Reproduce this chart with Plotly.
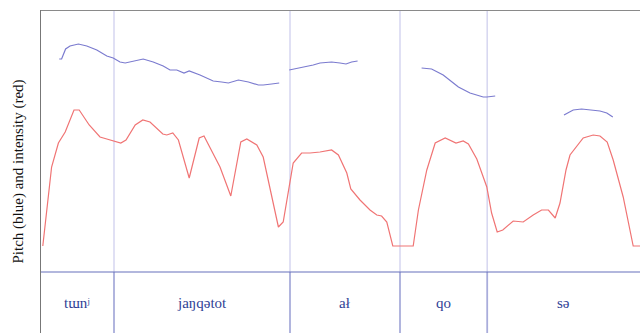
import plotly.graph_objects as go

# Time in ms, levels in arbitrary units
pitch_t1 = [48, 54, 64, 75, 96, 117, 142, 167, 183, 200, 213, 233, 258, 283, 308, 325, 342, 360, 373, 400, 433, 454, 471, 496, 521, 546, 558, 579, 598]
pitch_v1 = [274, 274, 284, 287, 289, 287, 283, 277, 275, 271, 270, 272, 274, 271, 267, 263, 263, 260, 262, 258, 252, 251, 250, 253, 251, 248, 248, 249, 250]
pitch_t2 = [623, 650, 683, 700, 729, 750, 765, 779, 794]
pitch_v2 = [263, 265, 268, 270, 271, 270, 269, 271, 272]
pitch_t3 = [954, 979, 1008, 1046, 1075, 1108, 1117, 1138]
pitch_v3 = [265, 264, 258, 246, 240, 236, 236, 237]
pitch_t4 = [1310, 1333, 1354, 1400, 1417, 1432]
pitch_v4 = [218, 223, 224, 222, 220, 216]

int_t = [7, 29, 46, 63, 85, 98, 123, 150, 167, 188, 202, 215, 238, 257, 275, 307, 317, 332, 346, 373,
         398, 410, 433, 450, 477, 502, 517, 542, 558, 596, 608, 629, 633, 654, 675, 700, 729, 746, 767, 777,
         800, 825, 842, 854, 867, 882, 933, 946, 963, 967, 988, 1013, 1040, 1058, 1071, 1092, 1117, 1129, 1143, 1157,
         1183, 1208, 1233, 1254, 1271, 1288, 1300, 1315, 1325, 1358, 1383, 1400, 1418, 1433, 1458, 1483, 1500]
int_v = [87, 166, 190, 201, 223, 223, 208, 196, 194, 192, 190, 193, 208, 213, 211, 199, 198, 200, 193, 155,
         195, 197, 180, 166, 137, 191, 194, 188, 176, 106, 111, 163, 170, 180, 180, 181, 183, 178, 160, 144,
         133, 123, 118, 117, 111, 87, 87, 123, 156, 163, 190, 195, 190, 192, 189, 174, 146, 120, 101, 103,
         112, 111, 118, 123, 123, 115, 130, 163, 178, 195, 198, 197, 191, 173, 136, 87, 87]

seg_bounds = [0, 185, 625, 900, 1118, 1500]
seg_labels = ["tɯnʲ", "jaŋqətot", "ał", "qo", "sə"]

BAND_TOP = 61
Y_MAX = 323
X_MAX = 1500

fig = go.Figure()
blue = "#7b7bcf"
red = "#f07474"
for t, v in [(pitch_t1, pitch_v1), (pitch_t2, pitch_v2), (pitch_t3, pitch_v3), (pitch_t4, pitch_v4)]:
    fig.add_trace(go.Scatter(x=t, y=v, mode="lines", line=dict(color=blue, width=1.2),
                             showlegend=False, hoverinfo="skip"))
fig.add_trace(go.Scatter(x=int_t, y=int_v, mode="lines", line=dict(color=red, width=1.2),
                         showlegend=False, hoverinfo="skip"))

shapes = []
for b in seg_bounds[1:-1]:
    shapes.append(dict(type="line", xref="x", yref="y", x0=b, x1=b, y0=BAND_TOP, y1=Y_MAX,
                       line=dict(color="#d6d6f0", width=1.5), layer="below"))
    shapes.append(dict(type="line", xref="x", yref="y", x0=b, x1=b, y0=0, y1=BAND_TOP,
                       line=dict(color="#a9addb", width=1.8), layer="below"))
shapes.append(dict(type="line", xref="x", yref="y", x0=0, x1=X_MAX, y0=BAND_TOP, y1=BAND_TOP,
                   line=dict(color="#6670bb", width=1.2)))
shapes.append(dict(type="line", xref="x", yref="y", x0=0, x1=X_MAX, y0=Y_MAX, y1=Y_MAX,
                   line=dict(color="#8a8a8a", width=2)))
shapes.append(dict(type="line", xref="x", yref="y", x0=0, x1=0, y0=0, y1=Y_MAX,
                   line=dict(color="#777777", width=2)))

serif = "Liberation Serif, Times New Roman, serif"
annotations = []
for i, lab in enumerate(seg_labels):
    annotations.append(dict(x=(seg_bounds[i] + seg_bounds[i + 1]) / 2, y=BAND_TOP / 2, xref="x", yref="y",
                            text=lab, showarrow=False,
                            font=dict(family=serif, size=15, color="#2f3f96")))
annotations.append(dict(x=0, y=0.5, xref="paper", yref="paper", xshift=-22, text="Pitch (blue) and intensity (red)",
                        textangle=-90, showarrow=False, xanchor="center", yanchor="middle",
                        font=dict(family=serif, size=15, color="#111111")))

fig.update_layout(
    width=640, height=333,
    margin=dict(l=40, r=0, t=10, b=0),
    paper_bgcolor="white", plot_bgcolor="white",
    xaxis=dict(range=[0, X_MAX], visible=False, fixedrange=True),
    yaxis=dict(range=[0, Y_MAX], visible=False, fixedrange=True),
    shapes=shapes, annotations=annotations,
)
fig.write_html("out.html", config={"displayModeBar": False},
               post_script="document.body.style.margin='0';document.body.style.overflow='hidden';")
